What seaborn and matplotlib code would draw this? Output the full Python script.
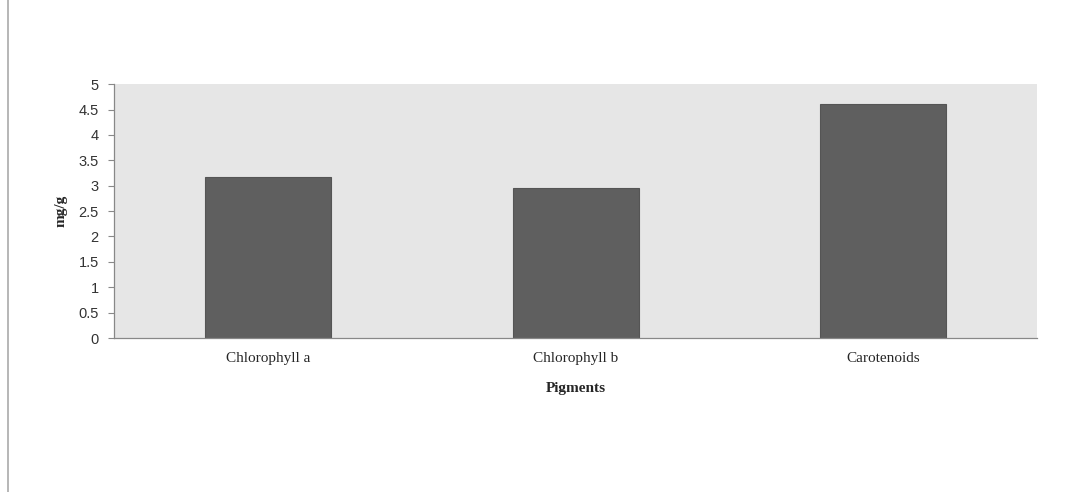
import matplotlib
matplotlib.use("Agg")
import matplotlib.pyplot as plt
import seaborn as sns
import pandas as pd

pigments = ["Chlorophyll a", "Chlorophyll b", "Carotenoids"]
content_mg_g = [3.17, 2.95, 4.61]
y_ticks = [0, 0.5, 1, 1.5, 2, 2.5, 3, 3.5, 4, 4.5, 5]
y_tick_labels = ["0", "0.5", "1", "1.5", "2", "2.5", "3", "3.5", "4", "4.5", "5"]

df = pd.DataFrame({"Pigments": pigments, "mg/g": content_mg_g})

sns.set_style("white")
plt.rcParams["font.family"] = ["Liberation Sans", "DejaVu Sans"]

fig = plt.figure(figsize=(10.66, 4.92), dpi=100)
ax = fig.add_axes([0.107, 0.313, 0.866, 0.516])
ax.set_facecolor("#e6e6e6")

sns.barplot(data=df, x="Pigments", y="mg/g", ax=ax, color="#5f5f5f",
            saturation=1, width=0.41, edgecolor="#555555", linewidth=0.8)

ax.set_ylim(0, 5)
ax.set_yticks(y_ticks)
ax.set_yticklabels(y_tick_labels, fontsize=10.5, color="#333333")
ax.set_xlim(-0.5, 2.5)

for lbl in ax.get_xticklabels():
    lbl.set_fontfamily("Liberation Serif")
    lbl.set_fontsize(11)
ax.tick_params(axis="x", length=0, pad=10)
ax.tick_params(axis="y", length=4, width=0.8, color="#888888", left=True, pad=7)

ax.set_xlabel("Pigments", fontfamily="Liberation Serif", fontweight="bold",
              fontsize=11, labelpad=12)
ax.set_ylabel("mg/g", fontfamily="Liberation Serif", fontweight="bold",
              fontsize=11, labelpad=8)

for side in ["top", "right"]:
    ax.spines[side].set_visible(False)
for side in ["left", "bottom"]:
    ax.spines[side].set_color("#888888")
    ax.spines[side].set_linewidth(0.9)

# thin frame line at the left edge of the figure
fig.add_artist(plt.Line2D([0.0075, 0.0075], [0.0, 1.0], transform=fig.transFigure,
                          color="#aaaaaa", linewidth=1.2))

fig.savefig("out.png", dpi=100, facecolor="white")
